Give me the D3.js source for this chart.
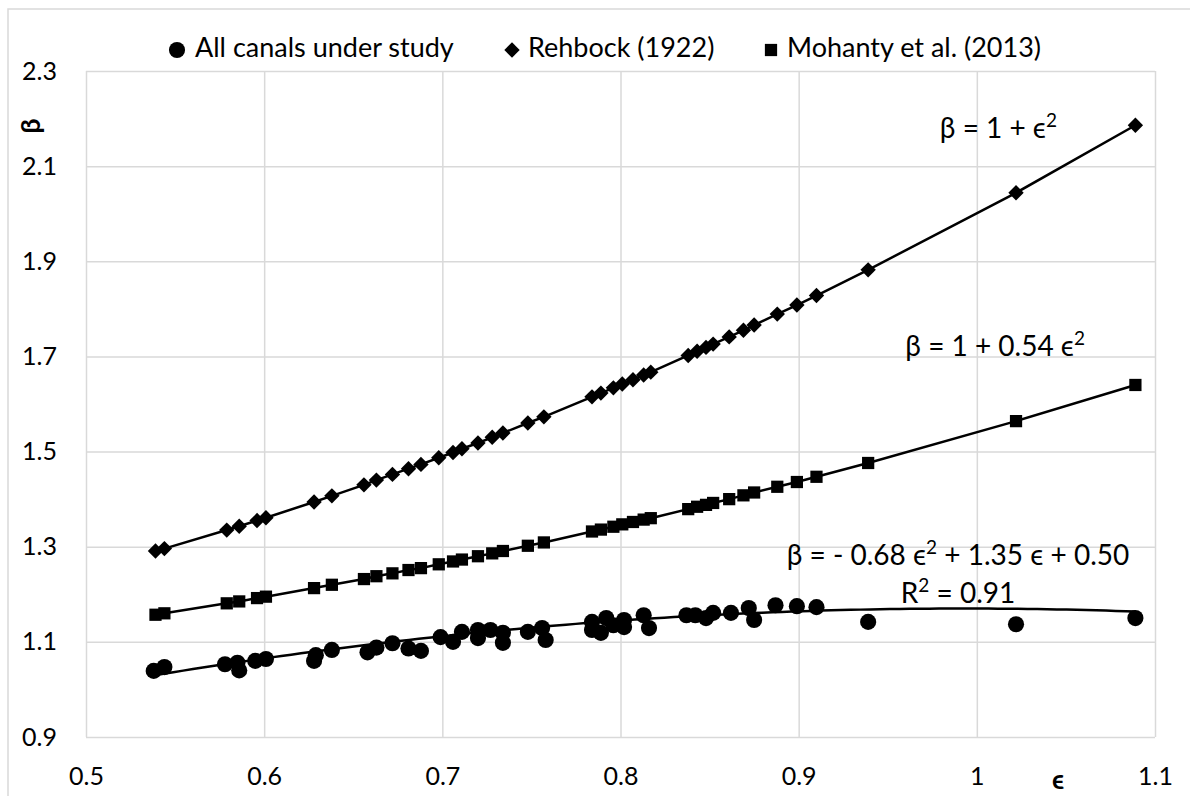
<!DOCTYPE html>
<html>
<head>
<meta charset="utf-8">
<script src="https://cdn.jsdelivr.net/npm/d3@7"></script>
<style>
  body { margin: 0; background: #fff; }
  text { font-family: Lato, "Open Sans", "DejaVu Sans", sans-serif; fill: #000; }
  .grid line { stroke: #d9d9d9; stroke-width: 1.5; }
  .grid .domain { display: none; }
</style>
</head>
<body>
<div id="chart"></div>
<script>
// epsilon values of the canals (circles)
var canalEps = [0.538, 0.544, 0.578, 0.585, 0.586, 0.595, 0.601, 0.628, 0.629, 0.638,
  0.658, 0.663, 0.672, 0.681, 0.688, 0.699, 0.706, 0.711, 0.720, 0.720,
  0.727, 0.734, 0.734, 0.748, 0.756, 0.758, 0.784, 0.784, 0.789, 0.792,
  0.796, 0.802, 0.802, 0.813, 0.816, 0.837, 0.842, 0.848, 0.852, 0.862,
  0.872, 0.875, 0.887, 0.899, 0.910, 0.939, 1.022, 1.089];
var canalBeta = [1.039, 1.047, 1.053, 1.056, 1.040, 1.060, 1.064, 1.060, 1.072, 1.083,
  1.078, 1.088, 1.097, 1.086, 1.081, 1.110, 1.100, 1.121, 1.125, 1.108,
  1.125, 1.119, 1.098, 1.121, 1.129, 1.104, 1.142, 1.125, 1.119, 1.150,
  1.135, 1.146, 1.131, 1.156, 1.129, 1.156, 1.156, 1.150, 1.161, 1.161,
  1.171, 1.146, 1.177, 1.175, 1.173, 1.142, 1.137, 1.150];

// epsilon values for the two reference curves (diamonds / squares)
var refEps = [0.539, 0.544, 0.579, 0.586, 0.596, 0.601, 0.628, 0.638, 0.656, 0.663,
  0.672, 0.681, 0.688, 0.698, 0.706, 0.711, 0.720, 0.728, 0.734, 0.748,
  0.757, 0.784, 0.789, 0.796, 0.801, 0.807, 0.813, 0.817, 0.838, 0.843,
  0.848, 0.852, 0.861, 0.869, 0.875, 0.888, 0.899, 0.910, 0.939, 1.022, 1.089];
var rehbockBeta = [1.291, 1.296, 1.335, 1.343, 1.355, 1.361, 1.394, 1.407, 1.430, 1.440,
  1.452, 1.464, 1.473, 1.487, 1.498, 1.506, 1.518, 1.530, 1.539, 1.560,
  1.573, 1.615, 1.623, 1.634, 1.642, 1.651, 1.661, 1.667, 1.702, 1.711,
  1.719, 1.726, 1.741, 1.755, 1.766, 1.789, 1.808, 1.828, 1.882, 2.044, 2.186];
var mohantyBeta = [1.157, 1.160, 1.181, 1.185, 1.192, 1.195, 1.213, 1.220, 1.232, 1.238,
  1.244, 1.251, 1.255, 1.263, 1.269, 1.273, 1.280, 1.286, 1.291, 1.302,
  1.309, 1.332, 1.336, 1.342, 1.347, 1.352, 1.357, 1.360, 1.379, 1.384,
  1.388, 1.392, 1.400, 1.408, 1.414, 1.426, 1.436, 1.447, 1.476, 1.564, 1.640];

// polynomial trendline of the canals: a*e^2 + b*e + c
var trendCoef = [-0.68, 1.35, 0.50];

var xTicks = [0.5, 0.6, 0.7, 0.8, 0.9, 1.0, 1.1];
var yTicks = [0.9, 1.1, 1.3, 1.5, 1.7, 1.9, 2.1, 2.3];

var legendNames = ["All canals under study", "Rehbock (1922)", "Mohanty et al. (2013)"];
var eqRehbock = "β = 1 + ϵ²";
var eqMohanty = "β = 1 + 0.54 ϵ²";
var eqCanals = "β = - 0.68 ϵ² + 1.35 ϵ + 0.50";
var eqR2 = "R² = 0.91";

var W = 1190, H = 796;
var plot = { left: 86, right: 1155, top: 71, bottom: 737 };

var svg = d3.select("#chart").append("svg")
  .attr("width", W)
  .attr("height", H);

// outer chart border
svg.append("rect")
  .attr("x", 8).attr("y", 9)
  .attr("width", 1200).attr("height", 800)
  .attr("fill", "none")
  .attr("stroke", "#d9d9d9")
  .attr("stroke-width", 1.5);

var x = d3.scaleLinear().domain([0.5, 1.1]).range([plot.left, plot.right]);
var y = d3.scaleLinear().domain([0.9, 2.3]).range([plot.bottom, plot.top]);

var fmt = function(d) { return String(+d.toFixed(1)); };

// grid + tick labels
svg.append("g")
  .attr("class", "grid")
  .attr("transform", "translate(0," + plot.bottom + ")")
  .call(d3.axisBottom(x).tickValues(xTicks).tickFormat(fmt)
    .tickSize(-(plot.bottom - plot.top)).tickPadding(30))
  .selectAll("text").style("font-size", "25px");

svg.append("g")
  .attr("class", "grid")
  .attr("transform", "translate(" + plot.left + ",0)")
  .call(d3.axisLeft(y).tickValues(yTicks).tickFormat(fmt)
    .tickSize(-(plot.right - plot.left)).tickPadding(29))
  .selectAll("text").style("font-size", "25px");

svg.selectAll(".grid text").attr("font-family", null).style("fill", "#000");

// axis titles
svg.append("text")
  .attr("transform", "translate(33,126) rotate(-90)")
  .attr("text-anchor", "middle")
  .attr("dominant-baseline", "middle")
  .style("font-size", "27px")
  .style("font-weight", "bold")
  .text("β");

svg.append("text")
  .attr("x", 1058).attr("y", 789)
  .attr("text-anchor", "middle")
  .style("font-size", "26px")
  .style("font-weight", "bold")
  .text("ϵ");

// reference lines
var line = d3.line()
  .x(function(d) { return x(d[0]); })
  .y(function(d) { return y(d[1]); });

var rehbock = refEps.map(function(e, i) { return [e, rehbockBeta[i]]; });
var mohanty = refEps.map(function(e, i) { return [e, mohantyBeta[i]]; });
var canals = canalEps.map(function(e, i) { return [e, canalBeta[i]]; });

svg.append("path").datum(rehbock)
  .attr("d", line).attr("fill", "none").attr("stroke", "#000").attr("stroke-width", 2.5);
svg.append("path").datum(mohanty)
  .attr("d", line).attr("fill", "none").attr("stroke", "#000").attr("stroke-width", 2.5);

// trendline drawn from its equation across the canal range
var eMin = d3.min(canalEps), eMax = d3.max(canalEps);
var trend = d3.range(0, 101).map(function(k) {
  var e = eMin + (eMax - eMin) * k / 100;
  return [e, trendCoef[0] * e * e + trendCoef[1] * e + trendCoef[2]];
});
svg.append("path").datum(trend)
  .attr("d", line).attr("fill", "none").attr("stroke", "#000").attr("stroke-width", 2.5);

// markers
var circleSym = d3.symbol().type(d3.symbolCircle).size(205);
var diamondSym = d3.symbol().type(d3.symbolSquare).size(118);
var squareSym = d3.symbol().type(d3.symbolSquare).size(150);

svg.selectAll(".rehbock").data(rehbock).enter().append("path")
  .attr("class", "rehbock")
  .attr("d", diamondSym)
  .attr("transform", function(d) { return "translate(" + x(d[0]) + "," + y(d[1]) + ") rotate(45)"; })
  .attr("fill", "#000");

svg.selectAll(".mohanty").data(mohanty).enter().append("path")
  .attr("class", "mohanty")
  .attr("d", squareSym)
  .attr("transform", function(d) { return "translate(" + x(d[0]) + "," + y(d[1]) + ")"; })
  .attr("fill", "#000");

svg.selectAll(".canal").data(canals).enter().append("path")
  .attr("class", "canal")
  .attr("d", circleSym)
  .attr("transform", function(d) { return "translate(" + x(d[0]) + "," + y(d[1]) + ")"; })
  .attr("fill", "#000");

// equation labels, "²" drawn as a raised small 2
function eqLabel(str, px, py, anchor) {
  var t = svg.append("text")
    .attr("x", px).attr("y", py)
    .attr("text-anchor", anchor)
    .style("font-size", "28px");
  var back = 0;
  str.split(/(²)/).forEach(function(part) {
    if (!part) return;
    if (part == "²") {
      t.append("tspan").attr("dy", -11).style("font-size", "19px").text("2");
      back = 11;
    } else {
      t.append("tspan").attr("dy", back).text(part);
      back = 0;
    }
  });
  return t;
}

eqLabel(eqRehbock, 1057, 138, "end");
eqLabel(eqMohanty, 1085, 356, "end");
eqLabel(eqCanals, 958, 565, "middle");
eqLabel(eqR2, 958, 603, "middle");

// legend
var legendX = [177, 512, 771];
var legendSyms = [circleSym, diamondSym, squareSym];
var legend = svg.selectAll(".legend").data(legendNames).enter().append("g")
  .attr("class", "legend")
  .attr("transform", function(d, i) { return "translate(" + legendX[i] + ",50)"; });

legend.append("path")
  .attr("d", function(d, i) { return legendSyms[i](); })
  .attr("transform", function(d, i) { return i == 1 ? "rotate(45)" : null; })
  .attr("fill", "#000");

legend.append("text")
  .attr("x", function(d, i) { return [18, 16, 16][i]; })
  .attr("y", 0)
  .attr("dominant-baseline", "middle")
  .style("font-size", "27px")
  .text(function(d) { return d; });
</script>
</body>
</html>
